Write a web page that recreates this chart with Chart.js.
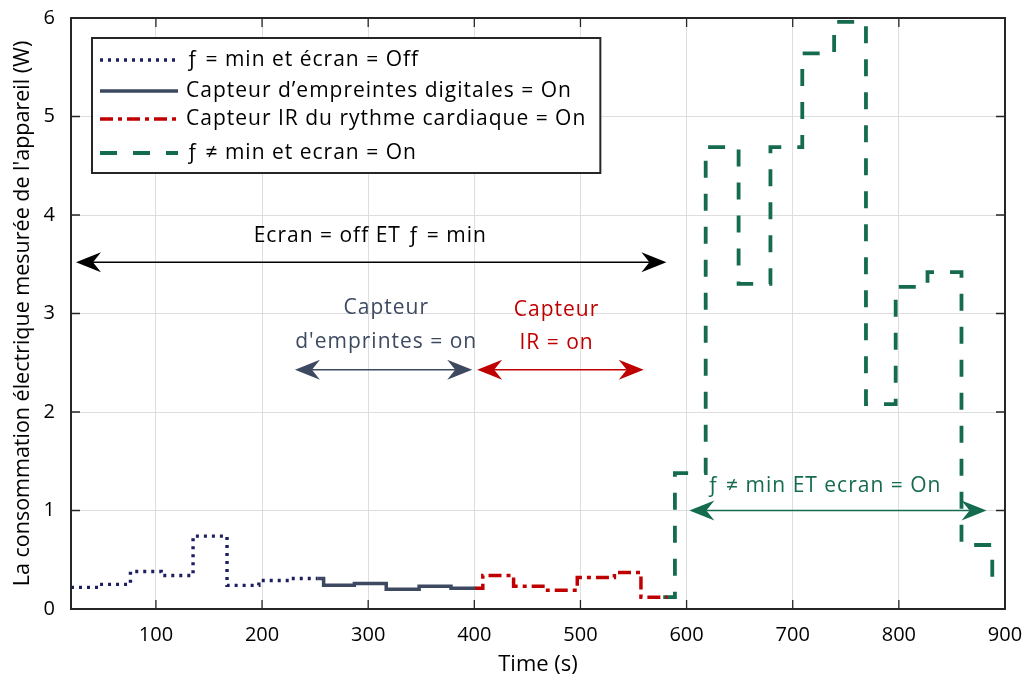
<!DOCTYPE html>
<html>
<head>
<meta charset="utf-8">
<script src="https://cdn.jsdelivr.net/npm/chart.js@4.4.0/dist/chart.umd.min.js"></script>
<style>
    html, body { margin: 0; padding: 0; background: #fff; }
    #wrap { width: 1027px; height: 683px; }
</style>
</head>
<body>
<div id="wrap"><canvas id="graphe" width="1027" height="683"></canvas></div>
<script>
// Données (temps en s, puissance en W), en marches d'escalier
const tempsEcranOff = [20, 46, 76, 105, 135, 167, 197, 227, 252];
const puissanceEcranOff = [0.22, 0.25, 0.38, 0.34, 0.74, 0.24, 0.29, 0.31, 0.31];

const tempsEmpreinte = [252, 258, 287, 317, 348, 378, 401];
const puissanceEmpreinte = [0.31, 0.24, 0.26, 0.20, 0.23, 0.21, 0.21];

const tempsIR = [400, 408, 437, 469, 497, 532, 557, 582];
const puissanceIR = [0.21, 0.34, 0.23, 0.19, 0.32, 0.37, 0.12, 0.12];

const tempsEcranOn = [578, 589, 618, 649, 679, 709, 739, 769, 797, 827, 859, 888, 892];
const puissanceEcranOn = [0.12, 1.38, 4.69, 3.30, 4.69, 5.64, 5.96, 2.08, 3.27, 3.42, 0.65, 0.28, 0.28];

const ticksX = [100, 200, 300, 400, 500, 600, 700, 800, 900];
const ticksY = [0, 1, 2, 3, 4, 5, 6];

const labelsSeries = [
    'ƒ = min et écran = Off',
    'Capteur d’empreintes digitales = On',
    'Capteur IR du rythme cardiaque = On',
    'ƒ ≠ min et ecran = On'
];

const BLEU = '#1b1f5e', GRIS = '#3c4961', ROUGE = '#c00000', VERT = '#156b4f';
const POLICE = '"Open Sans", "Noto Sans", sans-serif';

const points = (t, v) => t.map((x, i) => ({ x: x, y: v[i] }));

// Flèches et textes d'annotation (unités des axes)
const fleches = [
    { x1: 24.7, x2: 581, y: 3.52, couleur: '#000' },
    { x1: 231, x2: 398, y: 2.43, couleur: GRIS },
    { x1: 402.7, x2: 559.6, y: 2.43, couleur: ROUGE },
    { x1: 602.6, x2: 882.6, y: 1.0, couleur: VERT }
];
const textes = [
    { x: 302, y: 3.79, texte: 'Ecran = off ET ƒ = min', couleur: '#000' },
    { x: 317, y: 3.06, texte: 'Capteur', couleur: GRIS },
    { x: 317, y: 2.71, texte: 'd\'emprintes = on', couleur: GRIS },
    { x: 477.5, y: 3.04, texte: 'Capteur', couleur: ROUGE },
    { x: 477.5, y: 2.70, texte: 'IR = on', couleur: ROUGE },
    { x: 729.5, y: 1.25, texte: 'ƒ ≠ min ET ecran = On', couleur: VERT }
];

function dessinerFleche(ctx, xa, xb, y, couleur) {
    const L = 25, H = 10, creux = 17;
    ctx.save();
    ctx.strokeStyle = couleur;
    ctx.fillStyle = couleur;
    ctx.lineWidth = 1.5;
    ctx.beginPath();
    ctx.moveTo(xa + creux, y);
    ctx.lineTo(xb - creux, y);
    ctx.stroke();
    [[xa, 1], [xb, -1]].forEach(([x, s]) => {
        ctx.beginPath();
        ctx.moveTo(x, y);
        ctx.lineTo(x + s * L, y - H);
        ctx.lineTo(x + s * creux, y);
        ctx.lineTo(x + s * L, y + H);
        ctx.closePath();
        ctx.fill();
    });
    ctx.restore();
}

// Cadre, graduations internes, annotations et légende
const pluginDecor = {
    id: 'decor',
    afterDatasetsDraw(chart) {
        const { ctx, chartArea: a, scales } = chart;
        const sx = scales.x, sy = scales.y;

        // cadre et graduations vers l'intérieur
        ctx.save();
        ctx.strokeStyle = '#262626';
        ctx.lineWidth = 1.3;
        ctx.beginPath();
        ticksX.forEach(v => {
            const px = sx.getPixelForValue(v);
            ctx.moveTo(px, a.bottom); ctx.lineTo(px, a.bottom - 9);
            ctx.moveTo(px, a.top); ctx.lineTo(px, a.top + 9);
        });
        ticksY.forEach(v => {
            const py = sy.getPixelForValue(v);
            ctx.moveTo(a.left, py); ctx.lineTo(a.left + 9, py);
            ctx.moveTo(a.right, py); ctx.lineTo(a.right - 9, py);
        });
        ctx.stroke();
        ctx.lineWidth = 2;
        ctx.strokeRect(a.left, a.top, a.right - a.left, a.bottom - a.top);
        ctx.restore();

        // annotations
        fleches.forEach(f => dessinerFleche(ctx, sx.getPixelForValue(f.x1), sx.getPixelForValue(f.x2), sy.getPixelForValue(f.y), f.couleur));
        ctx.save();
        ctx.font = '21px ' + POLICE;
        ctx.letterSpacing = '1px';
        ctx.textAlign = 'center';
        ctx.textBaseline = 'middle';
        textes.forEach(t => {
            ctx.fillStyle = t.couleur;
            ctx.fillText(t.texte, sx.getPixelForValue(t.x), sy.getPixelForValue(t.y));
        });
        ctx.restore();

        // légende
        ctx.save();
        ctx.font = '21px ' + POLICE;
        ctx.letterSpacing = '1px';
        const bx = a.left + 21, by = a.top + 20;
        const largeur = 94 + Math.max(...labelsSeries.map(l => ctx.measureText(l).width)) + 14;
        ctx.fillStyle = '#fff';
        ctx.fillRect(bx, by, largeur, 135);
        ctx.strokeStyle = '#262626';
        ctx.lineWidth = 2;
        ctx.strokeRect(bx, by, largeur, 135);
        const lignesY = [22, 53, 81, 115];
        chart.data.datasets.forEach((ds, i) => {
            const yy = by + lignesY[i];
            ctx.strokeStyle = ds.borderColor;
            ctx.lineWidth = ds.borderWidth;
            ctx.setLineDash(ds.borderDash || []);
            ctx.beginPath();
            ctx.moveTo(bx + 8, yy);
            ctx.lineTo(bx + 86, yy);
            ctx.stroke();
            ctx.setLineDash([]);
            ctx.fillStyle = '#000';
            ctx.textBaseline = 'middle';
            ctx.fillText(ds.label, bx + 94, yy);
        });
        ctx.restore();
    }
};

const serie = (label, t, v, couleur, dash, epaisseur) => ({
    label: label,
    data: points(t, v),
    borderColor: couleur,
    borderWidth: epaisseur,
    borderDash: dash,
    borderCapStyle: 'butt',
    stepped: 'before',
    pointRadius: 0,
    fill: false
});

new Chart(document.getElementById('graphe'), {
    type: 'line',
    data: {
        datasets: [
            serie(labelsSeries[0], tempsEcranOff, puissanceEcranOff, BLEU, [3, 5], 3.4),
            serie(labelsSeries[1], tempsEmpreinte, puissanceEmpreinte, GRIS, [], 3.5),
            serie(labelsSeries[2], tempsIR, puissanceIR, ROUGE, [13, 5, 4, 5], 3.5),
            serie(labelsSeries[3], tempsEcranOn, puissanceEcranOn, VERT, [17, 16], 3.8)
        ]
    },
    options: {
        responsive: false,
        animation: false,
        layout: { padding: { left: 0, top: 18, right: 22, bottom: 0 } },
        plugins: { legend: { display: false }, tooltip: { enabled: false } },
        scales: {
            x: {
                type: 'linear',
                min: 20,
                max: 900,
                afterBuildTicks: s => { s.ticks = ticksX.map(v => ({ value: v })); },
                afterFit: s => { s.height = 74; s.paddingLeft = 0; s.paddingRight = 0; },
                grid: { color: '#dedede', drawTicks: false },
                border: { display: false },
                ticks: { color: '#000', padding: 14, font: { family: POLICE, size: 20 } },
                title: { display: true, text: 'Time (s)', color: '#000', padding: { top: 0, bottom: 5 }, font: { family: POLICE, size: 22 } }
            },
            y: {
                min: 0,
                max: 6,
                afterBuildTicks: s => { s.ticks = ticksY.map(v => ({ value: v })); },
                afterFit: s => { s.width = 71; s.paddingTop = 0; s.paddingBottom = 0; },
                grid: { color: '#dedede', drawTicks: false },
                border: { display: false },
                ticks: { color: '#000', padding: 16, font: { family: POLICE, size: 20 } },
                title: { display: true, text: 'La consommation électrique mesurée de l\'appareil (W)', color: '#000', padding: { top: 10, bottom: 0 }, font: { family: POLICE, size: 21.5 } }
            }
        }
    },
    plugins: [pluginDecor]
});
</script>
</body>
</html>
